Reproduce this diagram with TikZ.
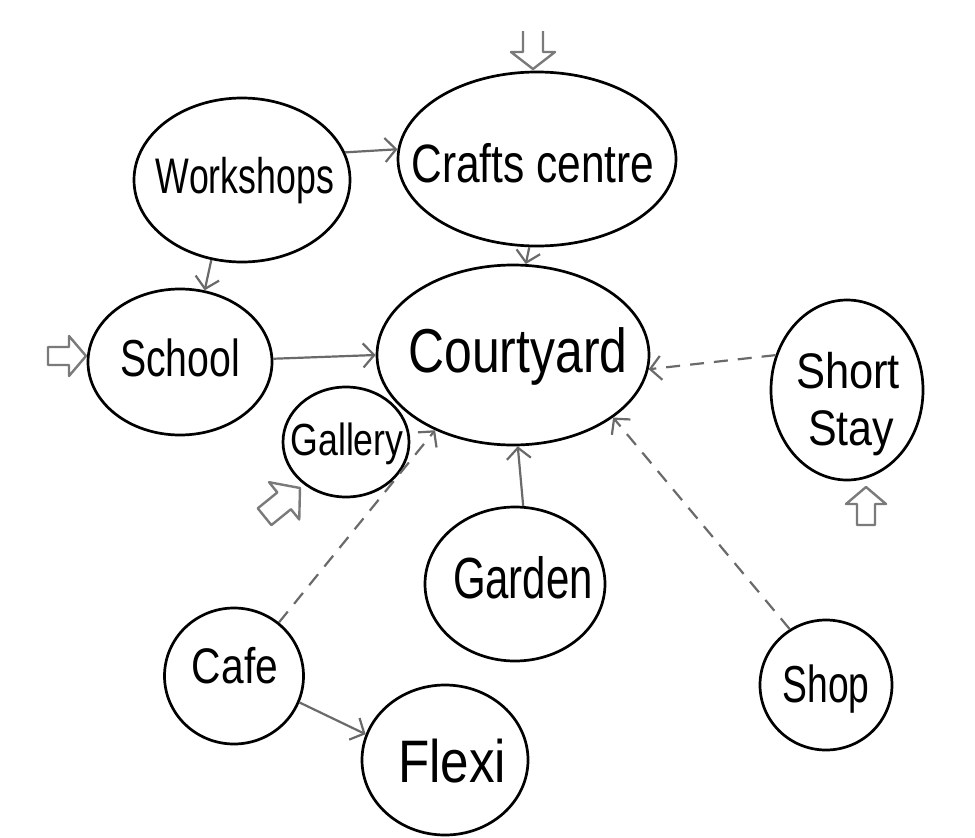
\documentclass[tikz,border=0pt]{standalone}
\usepackage{fontspec}
\setmainfont{Liberation Sans}
\usetikzlibrary{arrows.meta,shapes.geometric}
\definecolor{conn}{HTML}{6A6A6A}
\definecolor{entry}{HTML}{7A7A7A}
\newcommand\hw[3]{\resizebox{#1pt}{\height}{\fontsize{#2pt}{#2pt}\selectfont #3}}
\tikzset{
  blob/.style={ellipse, draw=black, line width=2.7pt, inner sep=0pt},
  lbl/.style={inner sep=0pt, anchor=base},
  link/.style={draw=conn, line width=2.2pt, -{Straight Barb[length=11pt,width=24pt,line width=2.2pt]}},
  dlink/.style={link, dash pattern=on 14pt off 10pt},
  hollow/.pic={\draw[entry, line width=2.4pt, line join=round]
     (0,0) -- (-17,-20) -- (-17,-9) -- (-38,-9) -- (-38,9) -- (-17,9) -- (-17,20) -- cycle;},
  hollowopen/.pic={\draw[entry, line width=2.4pt, line join=round]
     (-38,-10) -- (-17,-10) -- (-17,-22) -- (0,0) -- (-17,22) -- (-17,10) -- (-38,10);}
}
\begin{document}
\begin{tikzpicture}[x=1pt,y=1pt,yscale=-1]
\useasboundingbox (0,0) rectangle (975,838);
% ellipses
\node[blob, minimum width=216pt, minimum height=164pt] (ws) at (242,180) {};
\node[blob, minimum width=278pt, minimum height=174pt] (cc) at (537,159) {};
\node[blob, minimum width=184pt, minimum height=146pt] (sc) at (180,362) {};
\node[blob, minimum width=272pt, minimum height=180pt] (cy) at (513,355) {};
\node[blob, minimum width=126pt, minimum height=110pt] (ga) at (346,442) {};
\node[blob, minimum width=152pt, minimum height=180pt] (ss) at (847,390) {};
\node[blob, minimum width=180pt, minimum height=154pt] (gd) at (515,584) {};
\node[blob, minimum width=139pt, minimum height=136pt] (cf) at (234,676) {};
\node[blob, minimum width=166pt, minimum height=150pt] (fx) at (445,760) {};
\node[blob, minimum width=132pt, minimum height=130pt] (sh) at (826,685) {};
% labels
\node[lbl] (wst) at (245,193) {\hw{178}{50}{Workshops}};
\node[lbl] (cct) at (533,182) {\hw{243}{54}{Crafts centre}};
\node[lbl] (sct) at (180,376) {\hw{120}{52}{School}};
\node[lbl] (cyt) at (518,372) {\hw{219}{62}{Courtyard}};
\node[lbl] (gat) at (347,455) {\hw{113}{45}{Gallery}};
\node[lbl] (sst) at (848,388) {\hw{104}{50}{Short}};
\node[lbl] (sst2) at (851,445) {\hw{86}{50}{Stay}};
\node[lbl] (gdt) at (523,598) {\hw{140}{58}{Garden}};
\node[lbl] (cft) at (235,683) {\hw{86}{50}{Cafe}};
\node[lbl] (fxt) at (452,782) {\hw{108}{60}{Flexi}};
\node[lbl] (sht) at (826,702) {\hw{87}{52}{Shop}};
% connectors
\draw[link] (ws.15) -- (cc.176);
\draw[link] (ws.249) -- (sc.71);
\draw[link] (cc.265) -- (cy.82);
\draw[link] (sc.2) -- (cy.180);
\draw[dlink] (ss.154) -- (cy.-6);
\draw[link] (gd.84) -- (cy.-87);
\draw[dlink] (cf.50) -- (cy.224);
\draw[dlink] (sh.123) -- (cy.-32);
\draw[link] (cf.-22) -- (fx.162);
% hollow entry arrows
\pic[rotate=-90] at (533,69) {hollowopen};
\pic at (86,356) {hollow};
\pic[rotate=39, scale=1.2] at (300,488) {hollow};
\pic[rotate=90] at (866,487) {hollow};
\end{tikzpicture}
\end{document}
